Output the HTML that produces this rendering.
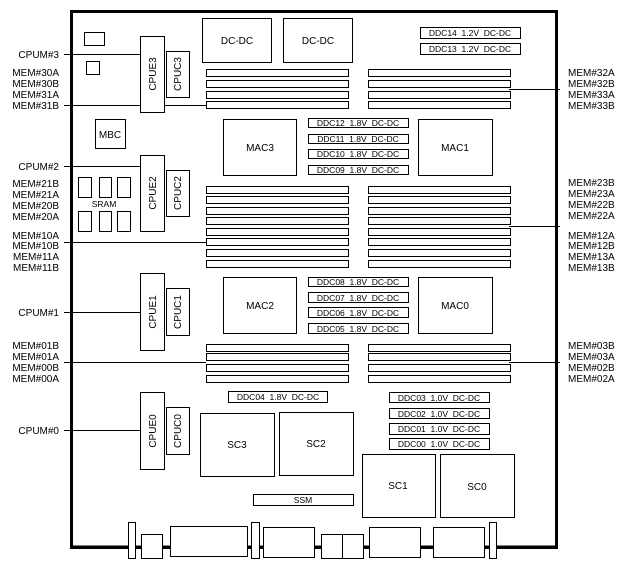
<!DOCTYPE html>
<html><head><meta charset="utf-8"><style>
html,body{margin:0;padding:0;background:#fff;}
svg{display:block;}
text{font-family:"Liberation Sans",sans-serif;font-size:10px;fill:#000;white-space:pre;}
.s{font-size:8.5px;}
</style></head><body>
<svg width="627" height="567" viewBox="0 0 627 567" xmlns="http://www.w3.org/2000/svg" xml:space="preserve">
<g fill="none" stroke="#000" stroke-width="1">
<path d="M71.5 547.5 V11.5 H556.5 V547.5 Z" stroke-width="3"/>
<line x1="64" y1="54.5" x2="140" y2="54.5"/>
<line x1="64" y1="105.5" x2="206" y2="105.5"/>
<line x1="64" y1="166.5" x2="140" y2="166.5"/>
<line x1="64" y1="242.5" x2="206" y2="242.5"/>
<line x1="64" y1="312.5" x2="140" y2="312.5"/>
<line x1="64" y1="362.5" x2="206" y2="362.5"/>
<line x1="64" y1="430.5" x2="140" y2="430.5"/>
<line x1="509" y1="89.5" x2="560" y2="89.5"/>
<line x1="509" y1="226.5" x2="560" y2="226.5"/>
<line x1="509" y1="362.5" x2="560" y2="362.5"/>
</g>
<g fill="#fff" stroke="#000" stroke-width="1">
<rect x="84.5" y="32.5" width="20" height="13"/>
<rect x="86.5" y="61.5" width="13" height="13"/>
<rect x="95.5" y="119.5" width="30" height="29"/>
<rect x="140.5" y="36.5" width="24" height="76"/>
<rect x="166.5" y="51.5" width="23" height="46"/>
<rect x="140.5" y="155.5" width="24" height="76"/>
<rect x="166.5" y="170.5" width="23" height="46"/>
<rect x="140.5" y="273.5" width="24" height="77"/>
<rect x="166.5" y="288.5" width="23" height="47"/>
<rect x="140.5" y="392.5" width="24" height="77"/>
<rect x="166.5" y="407.5" width="23" height="47"/>
<rect x="78.5" y="177.5" width="13" height="20"/>
<rect x="99.5" y="177.5" width="12" height="20"/>
<rect x="117.5" y="177.5" width="13" height="20"/>
<rect x="78.5" y="211.5" width="13" height="20"/>
<rect x="99.5" y="211.5" width="12" height="20"/>
<rect x="117.5" y="211.5" width="13" height="20"/>
<rect x="202.5" y="18.5" width="69" height="44"/>
<rect x="283.5" y="18.5" width="69" height="44"/>
<rect x="420.5" y="27.5" width="100" height="11"/>
<rect x="420.5" y="43.5" width="100" height="11"/>
<rect x="223.5" y="119.5" width="73" height="56"/>
<rect x="418.5" y="119.5" width="74" height="56"/>
<rect x="223.5" y="277.5" width="73" height="56"/>
<rect x="418.5" y="277.5" width="74" height="56"/>
<rect x="308.5" y="118.5" width="100" height="9"/>
<rect x="308.5" y="134.5" width="100" height="9"/>
<rect x="308.5" y="149.5" width="100" height="9"/>
<rect x="308.5" y="165.5" width="100" height="9"/>
<rect x="308.5" y="277.5" width="100" height="9"/>
<rect x="308.5" y="292.5" width="100" height="10"/>
<rect x="308.5" y="307.5" width="100" height="10"/>
<rect x="308.5" y="323.5" width="100" height="10"/>
<rect x="228.5" y="391.5" width="99" height="11"/>
<rect x="389.5" y="392.5" width="100" height="10"/>
<rect x="389.5" y="408.5" width="100" height="10"/>
<rect x="389.5" y="423.5" width="100" height="11"/>
<rect x="389.5" y="438.5" width="100" height="11"/>
<rect x="200.5" y="413.5" width="74" height="63"/>
<rect x="279.5" y="412.5" width="74" height="63"/>
<rect x="362.5" y="454.5" width="73" height="63"/>
<rect x="440.5" y="454.5" width="74" height="63"/>
<rect x="253.5" y="494.5" width="100" height="11"/>
</g>
<g fill="#fff" stroke="#000" stroke-width="1">
<g id="rowsL">
<rect x="206.5" y="69.5" width="142" height="7"/><rect x="206.5" y="80.5" width="142" height="7"/>
<rect x="206.5" y="91.5" width="142" height="7"/><rect x="206.5" y="101.5" width="142" height="7"/>
<rect x="206.5" y="186.5" width="142" height="7"/><rect x="206.5" y="196.5" width="142" height="7"/>
<rect x="206.5" y="207.5" width="142" height="7"/><rect x="206.5" y="217.5" width="142" height="7"/>
<rect x="206.5" y="228.5" width="142" height="7"/><rect x="206.5" y="238.5" width="142" height="7"/>
<rect x="206.5" y="249.5" width="142" height="7"/><rect x="206.5" y="260.5" width="142" height="7"/>
<rect x="206.5" y="344.5" width="142" height="7"/><rect x="206.5" y="353.5" width="142" height="7"/>
<rect x="206.5" y="364.5" width="142" height="7"/><rect x="206.5" y="375.5" width="142" height="7"/>
</g>
<use href="#rowsL" x="162"/>
</g>
<line x1="71" y1="547" x2="556" y2="547" stroke="#000" stroke-width="3"/>
<g fill="#fff" stroke="#000" stroke-width="1">
<rect x="128.5" y="522.5" width="7" height="36"/>
<rect x="141.5" y="534.5" width="21" height="24"/>
<rect x="170.5" y="526.5" width="77" height="30"/>
<rect x="251.5" y="522.5" width="8" height="36"/>
<rect x="263.5" y="527.5" width="51" height="30"/>
<rect x="321.5" y="534.5" width="21" height="24"/>
<rect x="342.5" y="534.5" width="21" height="24"/>
<rect x="369.5" y="527.5" width="51" height="30"/>
<rect x="433.5" y="527.5" width="51" height="30"/>
<rect x="489.5" y="522.5" width="7" height="36"/>
</g>
<g text-anchor="end">
<text x="59" y="58">CPUM#3</text>
<text x="59" y="76">MEM#30A</text><text x="59" y="87">MEM#30B</text><text x="59" y="98">MEM#31A</text><text x="59" y="109">MEM#31B</text>
<text x="59" y="170">CPUM#2</text>
<text x="59" y="187">MEM#21B</text><text x="59" y="198">MEM#21A</text><text x="59" y="209">MEM#20B</text><text x="59" y="220">MEM#20A</text>
<text x="59" y="239">MEM#10A</text><text x="59" y="249">MEM#10B</text><text x="59" y="260">MEM#11A</text><text x="59" y="271">MEM#11B</text>
<text x="59" y="316">CPUM#1</text>
<text x="59" y="349">MEM#01B</text><text x="59" y="360">MEM#01A</text><text x="59" y="371">MEM#00B</text><text x="59" y="382">MEM#00A</text>
<text x="59" y="434">CPUM#0</text>
</g>
<g>
<text x="568" y="76">MEM#32A</text><text x="568" y="87">MEM#32B</text><text x="568" y="98">MEM#33A</text><text x="568" y="109">MEM#33B</text>
<text x="568" y="186">MEM#23B</text><text x="568" y="197">MEM#23A</text><text x="568" y="208">MEM#22B</text><text x="568" y="219">MEM#22A</text>
<text x="568" y="239">MEM#12A</text><text x="568" y="249">MEM#12B</text><text x="568" y="260">MEM#13A</text><text x="568" y="271">MEM#13B</text>
<text x="568" y="349">MEM#03B</text><text x="568" y="360">MEM#03A</text><text x="568" y="371">MEM#02B</text><text x="568" y="382">MEM#02A</text>
</g>
<g text-anchor="middle">
<text x="110" y="138">MBC</text>
<text x="104" y="207" class="s">SRAM</text>
<text x="237" y="44">DC-DC</text>
<text x="318" y="44">DC-DC</text>
<text x="260" y="151">MAC3</text>
<text x="455" y="151">MAC1</text>
<text x="260" y="309">MAC2</text>
<text x="455" y="309">MAC0</text>
<text x="237" y="448">SC3</text>
<text x="316" y="447">SC2</text>
<text x="398" y="489">SC1</text>
<text x="477" y="490">SC0</text>
<text x="303" y="503" class="s">SSM</text>
<text x="470" y="36" class="s">DDC14  1.2V  DC-DC</text>
<text x="470" y="52" class="s">DDC13  1.2V  DC-DC</text>
<text x="358" y="126" class="s">DDC12  1.8V  DC-DC</text>
<text x="358" y="142" class="s">DDC11  1.8V  DC-DC</text>
<text x="358" y="157" class="s">DDC10  1.8V  DC-DC</text>
<text x="358" y="173" class="s">DDC09  1.8V  DC-DC</text>
<text x="358" y="285" class="s">DDC08  1.8V  DC-DC</text>
<text x="358" y="301" class="s">DDC07  1.8V  DC-DC</text>
<text x="358" y="316" class="s">DDC06  1.8V  DC-DC</text>
<text x="358" y="332" class="s">DDC05  1.8V  DC-DC</text>
<text x="278" y="400" class="s">DDC04  1.8V  DC-DC</text>
<text x="439" y="401" class="s">DDC03  1.0V  DC-DC</text>
<text x="439" y="417" class="s">DDC02  1.0V  DC-DC</text>
<text x="439" y="432" class="s">DDC01  1.0V  DC-DC</text>
<text x="439" y="447" class="s">DDC00  1.0V  DC-DC</text>
</g>
<g text-anchor="middle">
<text transform="translate(156,74) rotate(-90)">CPUE3</text>
<text transform="translate(181,74) rotate(-90)">CPUC3</text>
<text transform="translate(156,193) rotate(-90)">CPUE2</text>
<text transform="translate(181,193) rotate(-90)">CPUC2</text>
<text transform="translate(156,312) rotate(-90)">CPUE1</text>
<text transform="translate(181,312) rotate(-90)">CPUC1</text>
<text transform="translate(156,431) rotate(-90)">CPUE0</text>
<text transform="translate(181,431) rotate(-90)">CPUC0</text>
</g>
</svg>
</body></html>
